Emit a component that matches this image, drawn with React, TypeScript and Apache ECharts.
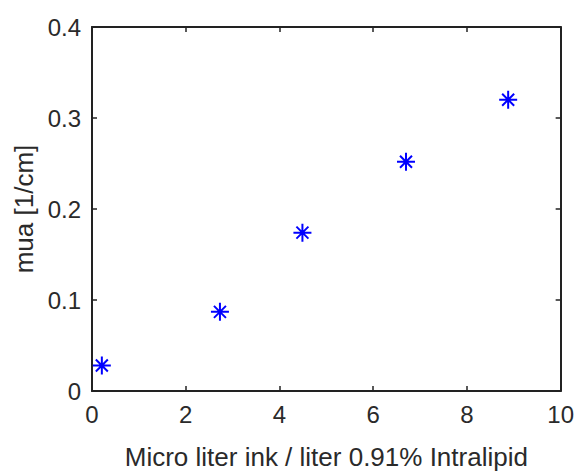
import React, { useEffect, useRef } from "react";
import * as echarts from "echarts";

const inkVolume = [0.21, 2.73, 4.49, 6.7, 8.88];
const muaValues = [0.028, 0.087, 0.174, 0.252, 0.32];
const xAxisTitle = "Micro liter ink / liter 0.91% Intralipid";
const yAxisTitle = "mua [1/cm]";

const FONT = "'Liberation Sans', Arial, Helvetica, sans-serif";
const AXIS_COLOR = "#222";
const TEXT_COLOR = "#2a2a2a";

const asterisk =
  "path://M-1,-9H1V9H-1Z M-9,-1H9V1H-9Z " +
  "M-5.3,-6.7L6.7,5.3L5.3,6.7L-6.7,-5.3Z " +
  "M5.3,-6.7L6.7,-5.3L-5.3,6.7L-6.7,5.3Z " +
  "M-2.2,-2.2H2.2V2.2H-2.2Z";

export default function App() {
  const ref = useRef<HTMLDivElement>(null);
  useEffect(() => {
    if (!ref.current) return;
    const chart = echarts.init(ref.current, undefined, { renderer: "svg" });
    const lineStyle = { color: AXIS_COLOR, width: 2 };
    const tick = { show: true, inside: true, length: 5, lineStyle: { color: AXIS_COLOR, width: 1.5 } };
    chart.setOption({
      animation: false,
      backgroundColor: "#fff",
      grid: { left: 92, right: 16, top: 27, bottom: 80, containLabel: false },
      xAxis: [
        {
          type: "value",
          position: "bottom",
          min: 0,
          max: 10,
          interval: 2,
          axisLine: { show: true, onZero: false, lineStyle },
          axisTick: tick,
          splitLine: { show: false },
          axisLabel: { color: TEXT_COLOR, fontSize: 24, fontFamily: FONT, margin: 11 },
          name: xAxisTitle,
          nameLocation: "middle",
          nameGap: 53,
          nameTextStyle: { color: TEXT_COLOR, fontSize: 26, fontFamily: FONT },
        },
        {
          type: "value",
          position: "top",
          min: 0,
          max: 10,
          interval: 2,
          axisLine: { show: true, onZero: false, lineStyle },
          axisTick: tick,
          splitLine: { show: false },
          axisLabel: { show: false },
        },
      ],
      yAxis: [
        {
          type: "value",
          position: "left",
          min: 0,
          max: 0.4,
          interval: 0.1,
          axisLine: { show: true, onZero: false, lineStyle },
          axisTick: tick,
          splitLine: { show: false },
          axisLabel: { color: TEXT_COLOR, fontSize: 24, fontFamily: FONT, margin: 11 },
          name: yAxisTitle,
          nameLocation: "middle",
          nameGap: 44,
          nameTextStyle: { color: TEXT_COLOR, fontSize: 26, fontFamily: FONT },
        },
        {
          type: "value",
          position: "right",
          min: 0,
          max: 0.4,
          interval: 0.1,
          axisLine: { show: true, onZero: false, lineStyle },
          axisTick: tick,
          splitLine: { show: false },
          axisLabel: { show: false },
        },
      ],
      series: [
        {
          type: "scatter",
          xAxisIndex: 0,
          yAxisIndex: 0,
          data: inkVolume.map((x, i) => [x, muaValues[i]]),
          symbol: asterisk,
          symbolSize: 18,
          itemStyle: { color: "#0000ff", opacity: 1 },
        },
      ],
    });
    return () => chart.dispose();
  }, []);
  return (
    <div
      ref={ref}
      style={{ position: "absolute", left: 0, top: 0, width: 577, height: 475 }}
    />
  );
}
